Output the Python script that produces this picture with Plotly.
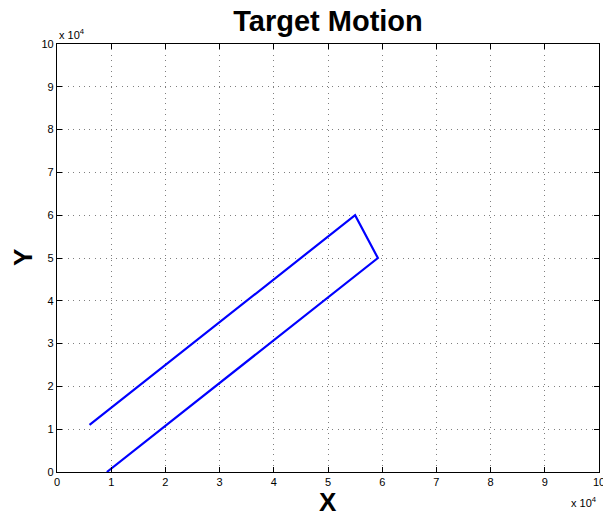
import plotly.graph_objects as go

# Data
x_vals = [9200, 59200, 55000, 6000]
y_vals = [0, 50000, 60000, 11000]
tick_vals = [i * 10000 for i in range(11)]
tick_text = [str(i) for i in range(11)]

FONT = "Liberation Sans, Arial, Helvetica"

fig = go.Figure()
fig.add_trace(go.Scatter(x=x_vals, y=y_vals, mode="lines",
                         line=dict(color="#0000ff", width=2.2), showlegend=False))

axis_common = dict(
    range=[0, 100000], tickvals=tick_vals, ticktext=tick_text,
    showgrid=True, gridcolor="rgba(0,0,0,0.5)", griddash="1px,4.4px", gridwidth=1,
    showline=True, linecolor="black", linewidth=1.2, mirror="ticks",
    ticks="inside", ticklen=5, tickcolor="black", zeroline=False,
    tickfont=dict(family=FONT, size=11, color="black"),
    automargin=False, ticklabeloverflow="allow",
)

fig.update_layout(
    width=603, height=516,
    margin=dict(l=57, r=4, t=44, b=44),
    paper_bgcolor="white", plot_bgcolor="white",
    title=dict(text="<b>Target Motion</b>", x=0.544, xanchor="center",
               y=1 - 21 / 516, yanchor="middle", xref="container", yref="container",
               font=dict(family=FONT, size=29, color="black")),
    xaxis=dict(**axis_common),
    yaxis=dict(**axis_common),
    annotations=[
        dict(text="<b>X</b>", xref="paper", yref="paper", x=0.5, y=0, xanchor="center",
             yanchor="middle", showarrow=False, yshift=-30,
             font=dict(family=FONT, size=26, color="black")),
        dict(text="<b>Y</b>", xref="paper", yref="paper", x=0, y=0.5, xanchor="center",
             yanchor="middle", showarrow=False, xshift=-34, textangle=-90,
             font=dict(family=FONT, size=26, color="black")),
        dict(text="x 10<sup>4</sup>", xref="paper", yref="paper", x=0, y=1, xanchor="left",
             yanchor="middle", showarrow=False, yshift=10,
             font=dict(family=FONT, size=11, color="black")),
        dict(text="x 10<sup>4</sup>", xref="paper", yref="paper", x=1, y=0, xanchor="right",
             yanchor="middle", showarrow=False, yshift=-30, xshift=0,
             font=dict(family=FONT, size=11, color="black")),
    ],
)

fig.write_html("out.html", config={"displayModeBar": False},
               post_script="document.body.style.margin='0px';")
